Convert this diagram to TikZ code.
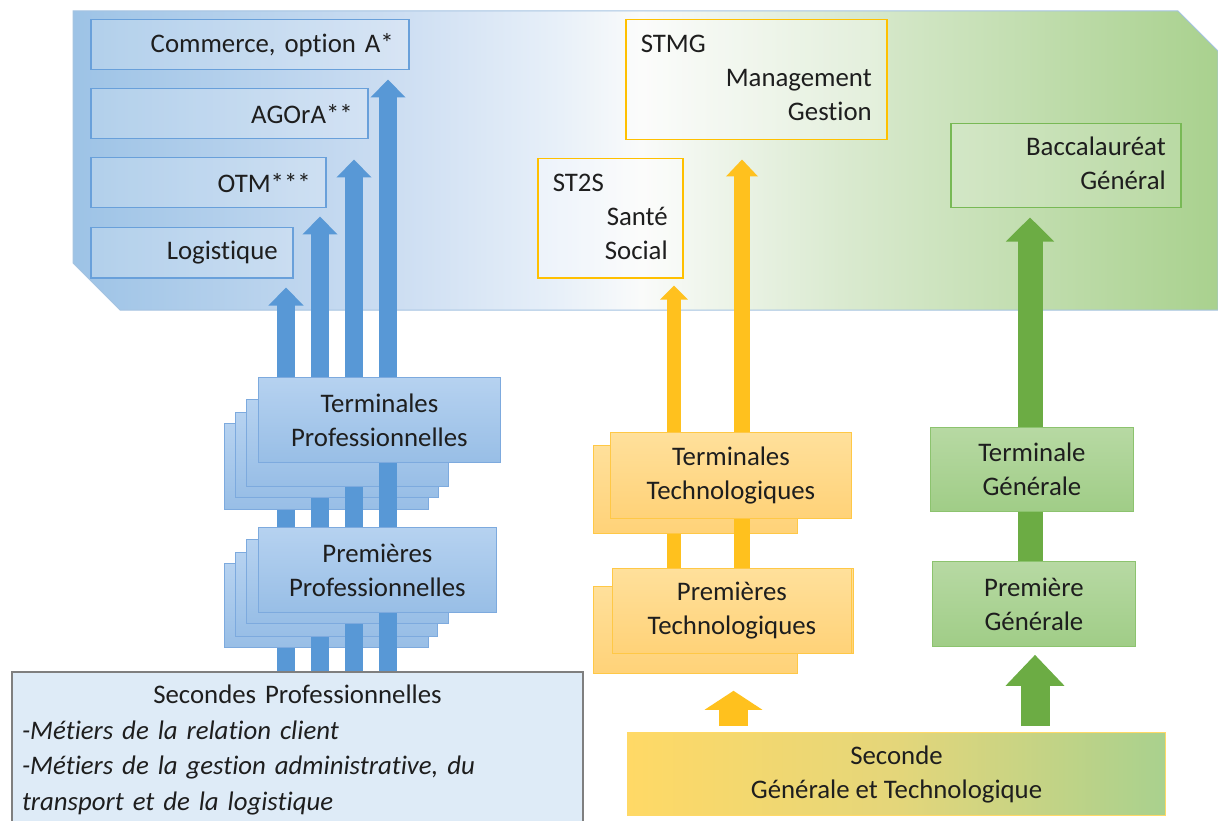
\documentclass[tikz,border=0pt]{standalone}
\usepackage{fontspec}
\setmainfont{Carlito}[Ligatures=NoCommon]
\usetikzlibrary{arrows.meta,calc}

% palette
\definecolor{bandA}{RGB}{157,195,230}
\definecolor{bandB}{RGB}{205,222,242}
\definecolor{bandC}{RGB}{232,240,249}
\definecolor{bandD}{RGB}{250,251,250}
\definecolor{bandE}{RGB}{218,234,208}
\definecolor{bandF}{RGB}{169,209,142}
\definecolor{bandline}{RGB}{165,195,225}
\definecolor{txtc}{RGB}{30,30,30}
\definecolor{optline}{RGB}{105,160,218}
\definecolor{blueA}{RGB}{88,152,214}
\definecolor{bstackT}{RGB}{182,210,240}
\definecolor{bstackB}{RGB}{152,190,230}
\definecolor{bstackL}{RGB}{125,170,222}
\definecolor{yelA}{RGB}{255,193,30}
\definecolor{ystackT}{RGB}{255,224,155}
\definecolor{ystackB}{RGB}{255,210,120}
\definecolor{ystackL}{RGB}{255,200,70}
\definecolor{ybord}{RGB}{255,192,0}
\definecolor{grnA}{RGB}{108,172,68}
\definecolor{gstackT}{RGB}{183,217,163}
\definecolor{gstackB}{RGB}{160,205,135}
\definecolor{gstackL}{RGB}{140,195,110}
\definecolor{gbord}{RGB}{120,185,85}
\definecolor{secL}{RGB}{255,217,102}
\definecolor{secM}{RGB}{228,214,122}
\definecolor{secR}{RGB}{169,209,142}
\definecolor{spfill}{RGB}{222,235,247}
\definecolor{spline}{RGB}{127,127,127}

\pgfdeclarehorizontalshading{bandshade}{100bp}{color(0bp)=(bandA); color(25bp)=(bandA); color(39.3bp)=(bandB); color(46.3bp)=(bandC); color(49.8bp)=(bandD); color(58.5bp)=(bandE); color(75bp)=(bandF); color(100bp)=(bandF)}
\pgfdeclarehorizontalshading{secshade}{100bp}{color(0bp)=(secL); color(25bp)=(secL); color(50bp)=(secM); color(75bp)=(secR); color(100bp)=(secR)}

\tikzset{
  txt/.style={font=\fontsize{26.8}{34}\selectfont, text=txtc},
  optbox/.style={txt, draw=optline, line width=1.5pt, fill=white, fill opacity=0.2,
    text opacity=1, anchor=north west, inner xsep=15pt, inner ysep=0pt, align=right},
  trackbox/.style={txt, draw=ybord, line width=1.5pt, fill=white, fill opacity=0.35,
    text opacity=1, anchor=north west, inner xsep=15pt, inner ysep=0pt, align=left},
  baccbox/.style={txt, draw=gbord, line width=1.5pt, fill=white, fill opacity=0.15,
    text opacity=1, anchor=north west, inner xsep=15pt, inner ysep=0pt, align=right},
  bstack/.style={txt, draw=bstackL, line width=0.8pt, top color=bstackT, bottom color=bstackB,
    anchor=north west, inner sep=0pt, align=center},
  ystack/.style={txt, draw=ystackL, line width=0.8pt, top color=ystackT, bottom color=ystackB,
    anchor=north west, inner sep=0pt, align=center},
  gstack/.style={txt, draw=gstackL, line width=0.8pt, top color=gstackT, bottom color=gstackB,
    anchor=north west, inner sep=0pt, align=center},
  blarrow/.style={draw=blueA, line width=18pt, -{Triangle[width=34pt,length=18pt]}},
  ylarrowS/.style={draw=yelA, line width=14pt, -{Triangle[width=27pt,length=14pt]}},
  ylarrowL/.style={draw=yelA, line width=16pt, -{Triangle[width=31pt,length=17pt]}},
  grarrow/.style={draw=grnA, line width=25pt, -{Triangle[width=47pt,length=24pt]}},
  grarrowB/.style={draw=grnA, line width=29pt, -{Triangle[width=57pt,length=31pt]}},
  ylarrowB/.style={draw=yelA, line width=29pt, -{Triangle[width=57pt,length=19pt]}},
}

\begin{document}
\begin{tikzpicture}[x=1pt,y=-1pt]
\useasboundingbox (0,0) rectangle (1218,821);

% shaded band holding the diplomas
\path[shading=bandshade, draw=bandline, line width=1pt]
  (73,11) -- (1178,11) -- (1218,51) -- (1218,310) -- (120,310) -- (73,263) -- cycle;

% vocational diplomas
\node[optbox, text width=288pt, minimum height=50pt] (com) at (90,19) {Commerce, option A*};
\node[optbox, text width=247pt, minimum height=50pt] (ago) at (90,88) {AGOrA**};
\node[optbox, text width=205pt, minimum height=50pt] (otm) at (90,157) {OTM***};
\node[optbox, text width=172pt, minimum height=50pt] (log) at (90,227) {Logistique};

% technological diplomas
\node[trackbox, text width=231pt, minimum height=120pt] (stmg) at (625,19)
  {\strut STMG\\ \hspace*{\fill}Management\\ \hspace*{\fill}Gestion\strut};
\node[trackbox, text width=115pt, minimum height=119pt] (st2s) at (537,158)
  {\strut ST2S\\ \hspace*{\fill}Santé\\ \hspace*{\fill}Social\strut};

% general diploma
\node[baccbox, text width=200pt, minimum height=84pt] (bac) at (950,123)
  {\strut Baccalauréat\\ Général\strut};

% second year, vocational
\node[txt, draw=spline, line width=1.2pt, fill=spfill, inner xsep=10pt, inner ysep=0pt,
  text width=551pt, minimum height=157pt, align=left] (sp) at (297.5,750.4)
  {\strut\hspace*{\fill}Secondes Professionnelles\hspace*{\fill}\null\\[1.5pt]
   \itshape -Métiers de la relation client\\[1.5pt]
   -Métiers de la gestion administrative, du\\[1.5pt]
   transport et de la logistique\strut};

% columns of the vocational arrows
\coordinate (bx1) at (286,0);
\coordinate (bx2) at (320,0);
\coordinate (bx3) at (354,0);
\coordinate (bx4) at (388,0);

% vocational stacks, interleaved with their arrows
\draw[blarrow] (sp.north -| bx1) -- ($(log.south -| bx1)+(0,9)$);
\node[bstack, minimum width=204pt, minimum height=86pt] (t3) at (224,423) {};
\node[bstack, minimum width=204pt, minimum height=84pt] (p3) at (224,563) {};
\draw[blarrow] (sp.north -| bx2) -- ($(otm.south -| bx2)+(0,8)$);
\node[bstack, minimum width=203pt, minimum height=85pt] (t2) at (235,412) {};
\node[bstack, minimum width=202pt, minimum height=84pt] (p2) at (235,552) {};
\draw[blarrow] (sp.north -| bx3) -- ($(ago.south -| bx3)+(0,20)$);
\node[bstack, minimum width=202pt, minimum height=87pt] (t1) at (246,399) {};
\node[bstack, minimum width=202pt, minimum height=84pt] (p1) at (246,539) {};
\draw[blarrow] (sp.north -| bx4) -- ($(com.south -| bx4)+(0,9)$);
\node[bstack, minimum width=242pt, minimum height=85pt] (t0) at (258,377)
  {Terminales\\ Professionnelles};
\node[bstack, minimum width=238pt, minimum height=85pt] (p0) at (258,527)
  {Premières\\ Professionnelles};

% technological stacks
\coordinate (yx1) at (674,0);
\coordinate (yx2) at (742,0);
\coordinate (yx3) at (733.5,0);
\node[ystack, minimum width=241pt, minimum height=85pt] (pt0) at (612,568) {};
\draw[ylarrowS] (pt0.center -| yx1) -- ($(st2s.south -| yx1)+(0,7)$);
\node[ystack, minimum width=204pt, minimum height=88pt] (tt1) at (593,445) {};
\node[ystack, minimum width=204pt, minimum height=87pt] (pt1) at (593,586) {};
\draw[ylarrowL] (pt0.center -| yx2) -- ($(stmg.south -| yx2)+(0,19)$);
\node[ystack, minimum width=241pt, minimum height=86pt] (tt0) at (610,432)
  {Terminales\\ Technologiques};
\node[ystack, minimum width=239pt, minimum height=85pt] (pt0) at (612,568)
  {Premières\\ Technologiques};

% general stack
\coordinate (gx1) at (1030,0);
\coordinate (gx2) at (1035,0);
\node[gstack, minimum width=203pt, minimum height=85pt] (pg) at (932,561) {};
\draw[grarrow] (pg.center -| gx1) -- ($(bac.south -| gx1)+(0,9)$);
\node[gstack, minimum width=203pt, minimum height=84pt] (tg) at (930,427)
  {Terminale\\ Générale};
\node[gstack, minimum width=203pt, minimum height=85pt] (pg) at (932,561)
  {Première\\ Générale};

% second year, general and technological
\node[txt, shading=secshade, draw=secL, line width=1pt, anchor=north west, inner sep=0pt,
  minimum width=538pt, minimum height=83pt, align=center] (sec) at (627,732)
  {Seconde\\ Générale et Technologique};
\draw[ylarrowB] ($(sec.north -| yx3)+(0,-6)$) -- ($(pt1.south -| yx3)+(0,17)$);
\draw[grarrowB] ($(sec.north -| gx2)+(0,-6)$) -- ($(pg.south -| gx2)+(0,8)$);
\end{tikzpicture}
\end{document}
